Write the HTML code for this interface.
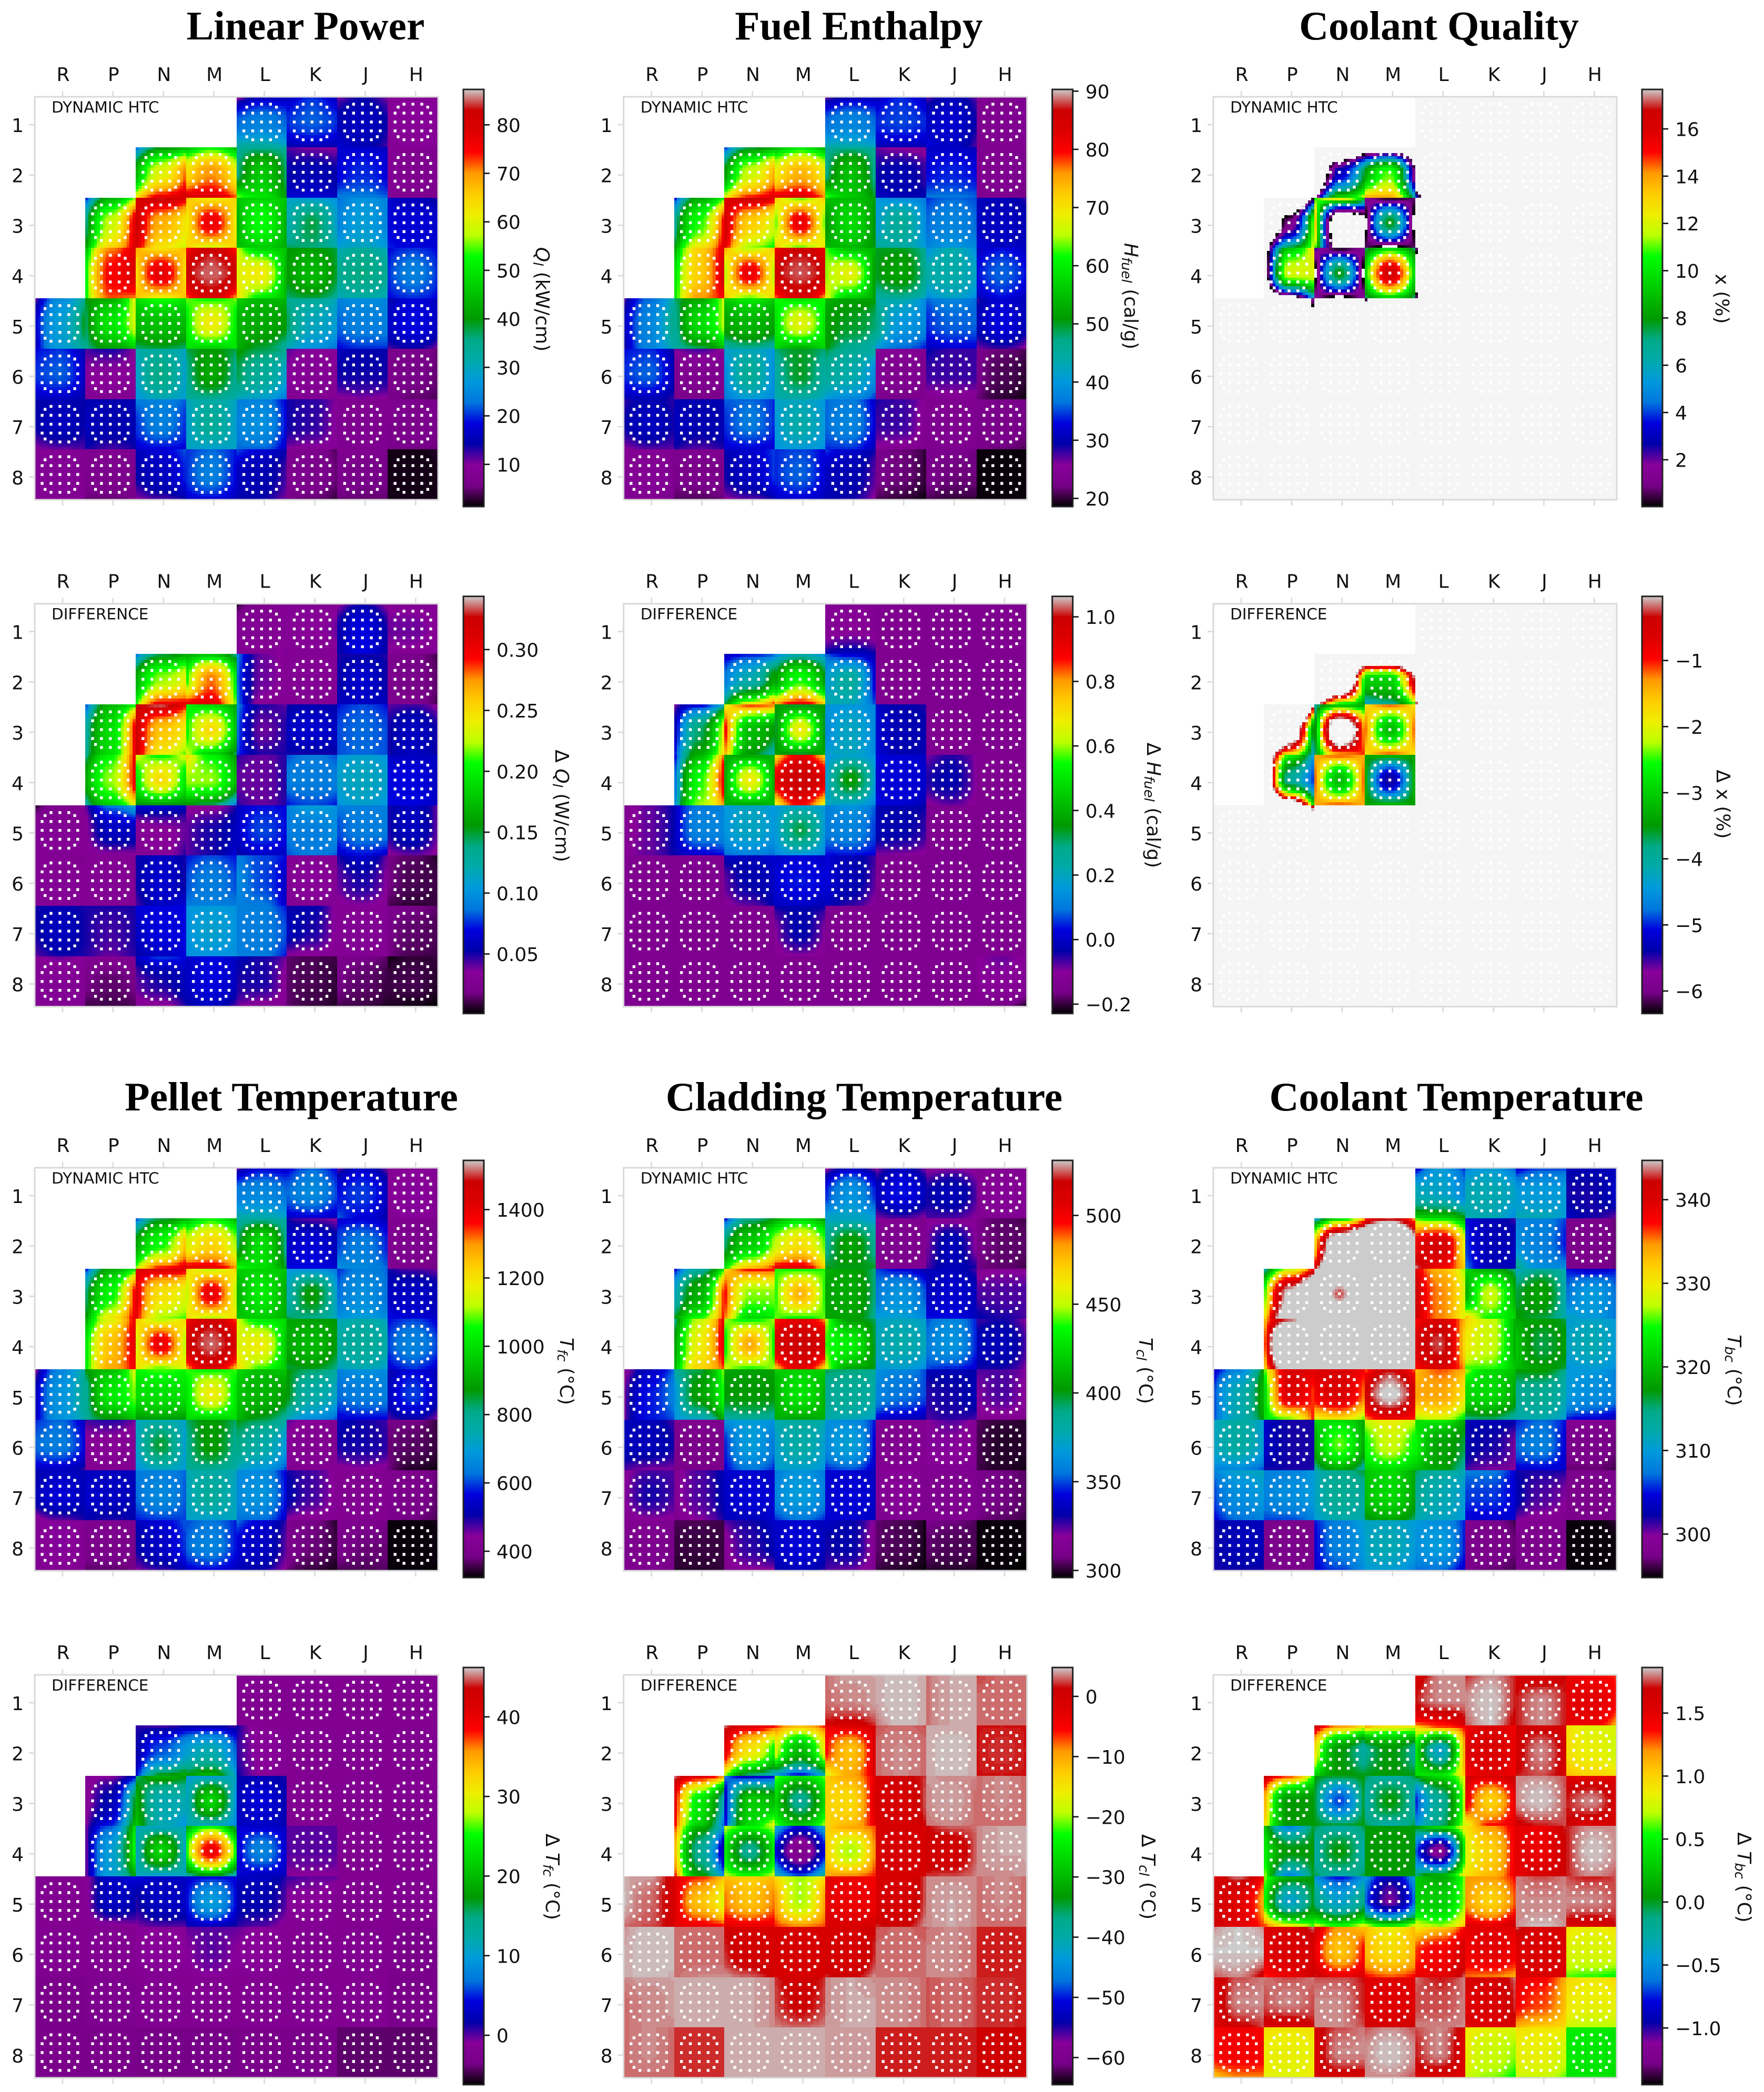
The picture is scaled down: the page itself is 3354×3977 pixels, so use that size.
<!DOCTYPE html>
<html lang="en">
<head>
<meta charset="utf-8">
<title>Core maps: power, enthalpy, quality and temperatures</title>
<style>
html,body{margin:0;padding:0;background:#fff}
svg{display:block}
text{font-family:"DejaVu Sans",sans-serif;fill:#111}
.title{font-family:"Liberation Serif",serif;font-weight:bold;font-size:77.5px;fill:#000}
</style>
</head>
<body>
<svg id="figure" xmlns="http://www.w3.org/2000/svg" width="3354" height="3977" viewBox="0 0 3354 3977">
<rect x="0" y="0" width="3354" height="3977" fill="#ffffff"/>
<text class="title" x="581" y="75" text-anchor="middle">Linear Power</text>
<text class="title" x="1633" y="75" text-anchor="middle">Fuel Enthalpy</text>
<text class="title" x="2736" y="75" text-anchor="middle">Coolant Quality</text>
<text class="title" x="554" y="2111" text-anchor="middle">Pellet Temperature</text>
<text class="title" x="1643" y="2111" text-anchor="middle">Cladding Temperature</text>
<text class="title" x="2769" y="2111" text-anchor="middle">Coolant Temperature</text>
</svg>
<script>
// ---------- categories ----------
const columnLabels=['R','P','N','M','L','K','J','H'];
const rowLabels=['1','2','3','4','5','6','7','8'];
const _=null; // no assembly at this core position

// Each assembly: [top-left,top,top-right,left,centre,right,bottom-left,bottom,bottom-right] or one uniform value.
const linearPowerValues=[
[_,_,_,_,[8,15,15,22,24,22,34,34,30],[15,20,15,20,22,20,14,15,14],[10,14,10,15,16,14,18,15,12],[9,9,9,9,10,9,9,9,9]],
[_,_,[20,38,42,42,60,72,62,78,82],[42,50,42,62,70,60,82,80,72],[34,34,34,34,46,36,58,50,40],[12,10,9,14,15,14,18,18,16],[17,17,16,18,20,18,24,24,22],[9,8,7,9,8,7,9,8,7]],
[_,[16,42,55,34,58,80,40,65,80],[78,85,80,84,68,62,82,62,58],[68,60,66,60,77,60,66,58,66],[46,47,46,42,53,42,45,46,42],[29,27,26,30,38,28,38,36,32],[22,26,24,24,28,24,28,30,27],[17,15,13,18,18,17,20,18,18]],
[_,[42,70,80,50,75,80,50,72,70],[70,62,68,62,78,62,68,60,68],[74,82,72,82,85,82,70,80,68],[60,46,46,60,62,42,66,50,44],[40,40,38,40,44,38,36,38,34],[30,34,30,34,36,34,30,32,30],[18,20,18,20,24,20,18,20,18]],
[[10,25,34,16,28,40,14,28,34],[40,42,62,36,50,60,34,40,46],[48,54,50,44,45,44,36,38,36],[56,52,56,50,62,50,50,46,50],[48,44,44,44,42,40,44,38,32],[34,34,30,38,30,28,30,26,22],[24,26,24,22,24,24,18,20,20],[14,18,16,16,19,16,12,14,10]],
[[18,20,14,20,22,16,16,16,14],[12,14,10,10,10,9,8,8,8],[32,32,30,28,36,28,26,30,28],[38,40,38,34,42,34,34,34,32],[42,38,36,38,34,28,30,28,22],[12,10,9,10,9,9,8,8,9],[16,15,14,14,14,14,9,10,9],[7,7,5,7,6,5,7,5,4]],
[[14,15,14,14,16,14,9,11,12],[15,15,15,16,15,15,14,12,14],[24,24,22,20,24,20,17,18,18],[30,32,30,28,34,28,30,28,30],[24,24,17,24,26,18,22,22,16],[14,13,10,14,13,9,10,9,9],8,[8,7,6,7,7,6,7,6,5]],
[[9,9,8,9,9,8,8,8,8],[8,8,8,7,7,7,5,5,6],[16,18,22,14,16,20,9,12,14],[20,22,19,20,24,18,17,18,15],[22,18,14,16,15,12,15,14,10],[8,7,4,8,7,5,6,5,3],[8,8,7,7,6,6,5,5,5],[2,2,3,2,2,2,2,2,2]]
];
const fuelEnthalpyValues=[
[_,_,_,_,[26,30,30,36,38,36,44,44,42],[30,34,30,34,35,34,30,30,30],[27,30,27,31,32,29,33,31,27],24],
[_,_,[32,48,52,50,66,75,68,80,84],[52,58,52,68,74,68,84,84,76],[46,46,46,46,55,46,65,56,50],[27,25,24,29,30,28,32,30,30],[31,31,30,33,34,33,37,37,36],[24,24,23,24,24,23,24,24,22]],
[_,[30,52,60,44,62,82,50,70,84],[82,88,84,86,72,66,84,64,60],[74,62,74,62,82,62,74,62,72],[56,54,52,50,58,50,54,54,50],[40,38,37,40,46,38,46,44,40],[34,36,35,36,38,36,38,40,38],[30,30,28,31,31,30,33,31,31]],
[_,[50,72,84,58,72,86,58,76,80],[76,64,74,64,82,64,74,62,74],[80,86,80,86,88,86,76,84,74],[64,54,54,64,68,50,70,56,52],[50,50,46,50,52,46,44,46,42],[38,44,38,44,44,42,38,42,38],[30,33,30,33,36,33,30,33,30]],
[[26,36,44,30,38,48,28,38,44],[48,52,68,44,58,66,44,48,54],[56,60,56,52,54,52,44,46,44],[62,58,62,58,68,58,58,52,58],[54,52,52,52,50,48,52,46,42],[44,44,38,48,40,38,40,36,33],[36,38,36,34,36,36,30,32,32],[28,32,30,30,33,30,26,28,25]],
[[33,34,28,34,36,30,30,30,28],[26,28,25,24,24,24,23,23,23],[42,42,40,38,46,38,36,40,38],[48,50,48,44,50,44,44,44,42],[50,46,46,46,44,38,40,38,34],[25,25,24,25,24,24,23,23,24],[30,28,28,28,28,28,24,24,24],[23,22,21,23,21,20,22,20,19]],
[[28,30,28,29,31,29,25,27,27],[30,30,30,31,30,30,29,27,29],[36,36,34,34,37,34,32,32,32],[42,42,40,40,44,40,40,40,40],[36,37,31,36,38,32,34,34,30],[29,28,25,28,28,24,25,24,24],24,[24,23,22,23,23,22,23,22,21]],
[[25,25,24,25,25,24,24,24,23],[24,24,24,23,23,23,21,21,22],[30,32,35,29,31,35,25,27,29],[34,35,32,34,36,32,31,32,30],[35,32,29,31,30,27,30,29,25],[23,22,20,23,22,20,21,20,19],[24,23,22,23,22,22,21,20,20],19]
];
// Negative samples fall outside the scale and show the pale background.
const coolantQualityValues=[
[_,_,_,_,-9,-9,-9,-9],
[_,_,[-9,-9,-6,-9,3,8,-1,10,12],[-6,-5,-8,8,11,0,14,14,6],[-9,-9,-9,-9,-9,-9,6,-9,-9],-9,-9,-9],
[_,[-9,-9,0,-9,1,12,-3,8,12],[10,14,10,15,-3,-1,12,-1,0],[2,-.5,1,-1,8,-1,1,-1,1],-9,-9,-9,-9],
[_,[-4,9,13,-4,12,12,-8,-2,6],[3,-.5,2,-1,8,-1,2,-1,2],[7,9,7,9,16.5,9,7,9,7],[2,-9,-9,-1,-9,-9,2,-9,-9],-9,-9,-9],
[-9,[-9,-9,3,-9,-9,-1,-9,-9,-9],-9,[2,-2,1,-9,-9,-9,-9,-9,-9],-9,-9,-9,-9],
[-9,-9,-9,-9,-9,-9,-9,-9],
[-9,-9,-9,-9,-9,-9,-9,-9],
[-9,-9,-9,-9,-9,-9,-9,-9]
];
const linearPowerDiffValues=[
[_,_,_,_,[.005,.025,.03,.03,.03,.03,.03,.03,.04],[.03,.03,.03,.03,.035,.04,.03,.03,.03],[.03,.05,.03,.05,.07,.05,.05,.07,.05],[.03,.03,.03,.04,.04,.03,.03,.03,.03]],
[_,_,[.08,.14,.16,.16,.22,.24,.2,.31,.31],[.16,.17,.13,.2,.28,.19,.32,.31,.21],[.1,.04,.03,.09,.04,.03,.1,.03,.03],.03,[.05,.05,.05,.05,.065,.05,.06,.06,.06],[.025,.02,.01,.025,.02,.015,.025,.025,.01]],
[_,[.07,.17,.2,.12,.19,.31,.13,.19,.31],[.32,.34,.3,.33,.26,.24,.33,.24,.21],[.2,.18,.16,.2,.25,.17,.24,.18,.14],[.1,.05,.04,.09,.04,.05,.08,.05,.05],[.05,.055,.05,.06,.065,.06,.05,.05,.05],[.07,.08,.07,.08,.085,.08,.08,.085,.08],[.04,.045,.03,.05,.06,.05,.05,.06,.05]],
[_,[.13,.2,.31,.16,.22,.31,.12,.18,.24],[.24,.2,.24,.19,.25,.19,.15,.15,.15],[.26,.2,.15,.22,.22,.17,.15,.14,.08],[.05,.04,.05,.04,.04,.05,.05,.04,.05],[.08,.09,.08,.09,.09,.09,.07,.08,.07],[.1,.11,.1,.11,.115,.11,.1,.11,.1],[.06,.06,.06,.07,.07,.06,.07,.07,.06]],
[[.005,.025,.03,.03,.03,.03,.03,.03,.03],[.04,.09,.12,.03,.06,.06,.03,.03,.03],[.07,.07,.06,.03,.035,.04,.03,.03,.05],[.03,.03,.05,.04,.05,.06,.04,.05,.07],[.06,.07,.07,.06,.08,.07,.05,.06,.06],[.09,.11,.1,.09,.09,.1,.08,.09,.08],[.09,.09,.09,.08,.09,.09,.06,.07,.06],[.05,.06,.04,.05,.06,.04,.03,.04,.03]],
[[.03,.03,.025,.03,.03,.03,.03,.035,.03],.03,[.05,.06,.05,.05,.065,.05,.04,.06,.07],[.07,.08,.07,.08,.09,.08,.09,.09,.09],[.09,.08,.07,.1,.08,.06,.09,.09,.06],[.03,.03,.03,.03,.035,.03,.03,.03,.03],[.05,.065,.04,.04,.05,.035,.03,.035,.03],[.02,.015,.005,.02,.012,.01,.012,.008,.01]],
[[.05,.055,.05,.05,.06,.05,.04,.05,.05],[.05,.05,.05,.05,.045,.05,.05,.04,.05],[.07,.07,.07,.06,.07,.07,.05,.06,.07],[.1,.105,.1,.1,.11,.1,.1,.1,.1],[.09,.09,.07,.09,.09,.08,.09,.09,.07],[.05,.055,.03,.06,.05,.03,.03,.03,.03],.03,[.025,.02,.015,.02,.015,.012,.02,.012,.01]],
[[.03,.04,.03,.03,.03,.03,.03,.03,.03],[.03,.03,.03,.02,.015,.02,.01,.01,.012],[.06,.08,.07,.04,.05,.06,.03,.03,.05],[.06,.07,.06,.06,.07,.06,.05,.06,.04],[.06,.05,.04,.05,.05,.03,.04,.03,.03],[.015,.012,.01,.015,.012,.008,.015,.01,.006],[.025,.02,.015,.02,.015,.01,.012,.01,.006],[.003,.008,.01,.01,.012,.006,.006,.004,.001]]
];
const fuelEnthalpyDiffValues=[
[_,_,_,_,[-.12,-.12,-.12,-.12,-.1,-.12,-.02,0,-.03],-.13,-.13,-.13],
[_,_,[-.03,.03,.06,.1,.22,.4,.3,.7,.9],[.1,.2,.12,.35,.55,.35,.8,.95,.75],[.08,0,-.03,.15,.25,0,.25,.2,.06],-.13,-.13,-.13],
[_,[-.1,0,.2,-.05,.3,.7,.02,.4,.72],[.6,.88,.85,.92,.42,.35,.8,.35,.2],[.36,.3,.36,.3,.68,.3,.38,.3,.4],[.15,.15,.12,.12,.2,.12,.18,.2,.12],[0,-.03,-.05,.02,-.02,-.03,.03,-.03,-.02],-.13,-.13],
[_,[-.02,.4,.85,.05,.55,.95,.12,.6,.8],[.38,.36,.4,.36,.68,.36,.4,.36,.42],[.68,.9,.7,.9,1,.92,.62,.88,.6],[.15,.17,.15,.16,.36,.16,.2,.17,.12],[.03,.02,0,.02,.02,.01,.03,.02,-.03],[-.1,-.05,-.1,-.05,-.03,-.1,-.12,-.08,-.12],-.13],
[[-.13,-.08,-.03,-.13,-.08,-.03,-.12,-.08,-.03],[-.02,.1,.12,-.02,.12,.12,-.03,0,.03],[.15,.2,.15,.15,.2,.15,.08,.1,.08],[.16,.18,.16,.15,.32,.16,.12,.14,.12],[.1,.15,.08,.1,.12,.06,.03,.03,.02],[-.02,-.03,-.03,-.02,-.03,-.06,-.1,-.1,-.12],-.13,-.13],
[-.13,-.13,[0,-.01,.02,-.08,-.03,0,-.12,-.08,-.02],[0,.02,0,.02,.04,.02,0,0,-.03],[.03,-.02,-.06,.03,-.02,-.08,0,-.06,-.12],-.13,-.13,-.13],
[-.13,-.13,-.13,[-.03,-.03,-.03,-.1,-.03,-.1,-.13,-.1,-.13],-.13,-.13,-.13,-.13],
[-.13,-.13,-.13,-.13,-.13,-.13,-.13,[-.11,-.08,-.12,-.1,-.1,-.12,-.14,-.16,-.22]]
];
// Samples above the scale maximum show the pale background.
const coolantQualityDiffValues=[
[_,_,_,_,9,9,9,9],
[_,_,[9,9,6,9,2,-3,1,-3,-3.5],[6,5,8,-3,-3,0,-4.5,-4,-2.5],[3,3,3,3,3,3,-1,3,3],9,9,9],
[_,[9,9,0,9,1,-4,3,-2,-4.5],[-4,-3.5,-3.5,-4,1,-1.5,-4,-1.5,-1],[-2,-1,-2,-1,-3.2,-1,-2,-1,-2],9,9,9,9],
[_,[4,-2.5,-4.5,4,-4,-5,8,2,-3],[-1.5,-1,-1.5,-1,-3.2,-1,-1.5,-1,-1.5],[-3.5,-3,-3.5,-3,-5.5,-3,-3.5,-3,-3.5],[0,3,3,1,3,3,-.5,3,3],9,9,9],
[9,[3,3,-1,3,3,1,3,3,3],9,[-.5,1,0,3,3,3,3,3,3],9,9,9,9],
[9,9,9,9,9,9,9,9],
[9,9,9,9,9,9,9,9],
[9,9,9,9,9,9,9,9]
];
const pelletTempValues=[
[_,_,_,_,[450,550,540,640,660,620,760,760,720],[540,620,550,620,660,600,530,550,520],[450,540,450,570,600,530,620,560,500],[420,440,420,430,450,420,420,450,420]],
[_,_,[560,830,900,880,1050,1260,1100,1380,1440],[900,1020,900,1130,1220,1100,1440,1420,1300],[760,760,760,800,1000,780,1100,1000,850],[500,460,430,540,560,520,570,570,550],[550,550,520,600,640,580,680,660,620],[420,410,390,420,410,390,420,400,380]],
[_,[530,900,1000,800,1040,1400,860,1200,1420],[1400,1460,1430,1430,1200,1150,1430,1100,1060],[1240,1100,1240,1100,1400,1100,1240,1090,1230],[980,970,950,900,1020,900,950,960,900],[680,660,620,720,880,700,850,800,720],[580,640,620,620,670,620,680,700,660],[500,470,450,530,540,520,580,560,540]],
[_,[890,1150,1420,1000,1250,1430,1000,1280,1380],[1260,1100,1240,1120,1400,1100,1230,1060,1200],[1360,1460,1320,1450,1510,1440,1260,1430,1240],[1160,1000,1000,1150,1180,930,1240,1060,940],[900,880,870,900,930,860,840,860,800],[730,760,720,760,780,760,720,740,700],[560,600,540,600,650,600,540,590,530]],
[[420,650,780,520,680,800,520,680,760],[880,930,1180,760,1020,1100,780,860,950],[1040,1080,1040,1000,1000,1000,860,880,860],[1080,1040,1080,1000,1180,1000,1000,960,1000],[1000,940,960,960,920,880,940,850,760],[880,830,780,880,760,720,720,660,600],[640,680,660,620,640,640,540,560,560],[500,560,520,520,600,520,470,500,440]],
[[580,620,520,620,640,560,530,530,480],[480,500,460,440,440,420,420,420,420],[730,740,720,700,850,690,660,720,700],[830,880,830,790,880,790,790,790,760],[880,840,770,820,760,680,720,680,580],[470,440,420,440,420,420,420,420,420],[540,500,480,500,500,490,420,440,420],[390,390,350,380,370,350,390,340,330]],
[[500,530,520,520,560,520,410,460,500],[530,530,530,550,540,520,510,490,510],[640,640,620,620,660,610,570,590,600],[740,760,730,720,780,720,720,700,740],[660,660,540,660,680,560,620,620,530],[500,480,420,520,480,420,440,420,420],420,[420,400,380,410,400,370,400,380,360]],
[[420,450,420,430,450,420,420,420,410],[410,420,410,400,400,390,370,370,390],[530,560,620,500,540,600,440,480,520],[600,630,580,620,650,570,540,560,530],[640,560,480,560,540,460,530,500,420],[410,390,340,410,380,350,380,350,330],[420,410,390,400,380,380,360,360,370],[330,330,335,330,330,330,330,330,325]]
];
const claddingTempValues=[
[_,_,_,_,[315,335,320,345,365,345,375,375,370],[318,335,320,335,345,335,320,325,318],[315,320,315,330,335,325,325,325,318],[315,315,315,315,318,315,315,315,315]],
[_,_,[335,385,400,390,420,450,430,480,500],[400,420,400,450,465,440,510,510,470],[370,370,365,385,405,385,400,400,400],[318,315,312,315,312,315,315,315,315],[318,315,315,320,335,318,325,335,330],[310,305,302,310,306,305,308,306,302]],
[_,[335,380,430,370,410,500,400,440,500],[460,500,500,500,445,445,490,420,430],[440,432,440,435,478,435,445,430,445],[410,405,390,405,408,390,405,405,385],[350,340,330,355,365,350,370,370,360],[335,335,325,335,340,335,345,345,335],[312,318,318,325,325,325,335,330,325]],
[_,[380,450,510,400,460,510,410,470,490],[450,430,450,430,480,430,455,435,450],[490,505,480,510,518,510,470,505,465],[455,400,395,440,432,395,460,405,400],[370,375,370,375,378,375,365,370,360],[350,360,345,355,365,345,350,345,340],[325,330,318,335,335,325,330,330,320]],
[[312,335,355,320,345,360,320,345,350],[385,395,450,360,405,440,365,370,410],[405,405,405,402,402,402,380,385,380],[420,420,420,410,428,410,410,405,410],[395,392,385,385,385,380,380,375,370],[365,360,350,360,355,350,340,335,330],[335,335,330,328,330,335,325,328,325],[325,325,320,320,325,318,315,315,312]],
[[335,335,325,335,335,330,325,320,320],[312,315,312,312,310,312,310,310,310],[365,368,365,345,368,355,340,355,345],[380,382,380,370,380,370,370,370,365],[365,360,345,360,370,340,345,350,335],315,[318,325,315,320,320,315,315,315,315],[305,302,300,304,300,300,303,300,298]],
[[315,325,325,318,330,325,312,318,318],[312,325,335,315,325,335,310,320,330],[338,340,335,338,342,340,335,335,340],[355,365,355,360,368,358,345,355,345],[340,340,335,340,342,338,340,340,335],[315,320,312,315,318,312,312,312,312],314,[310,308,304,310,308,304,308,305,302]],
[[315,315,312,312,312,310,312,312,308],[304,304,302,302,302,302,300,300,302],[325,330,340,316,328,335,312,318,318],[338,340,335,338,342,335,330,335,328],[340,332,316,330,332,312,325,322,312],[306,304,298,306,304,298,302,300,297],[310,308,303,306,304,304,300,300,300],[297,297,298,297,297,297,298,297,296]]
];
const coolantTempValues=[
[_,_,_,_,[302,310,305,312,311,308,322,322,318],[308,310,306,312,312,311,312,312,308],[303,306,306,310,310,310,312,312,310],[303,303,303,302,302,304,304,302,300]],
[_,_,[308,320,332,330,350,356,340,356,358],[336,341,333,352,356,345,358,358,352],[325,322,318,338,341,328,345,338,332],[305,303,301,306,303,303,308,303,303],[308,308,306,309,308,305,316,309,309],[298,298,297,298,298,297,298,298,297]],
[_,[310,326,338,324,345,356,330,350,358],[356,356,356,356,343,356,356,356,356],350,[340,333,326,342,335,328,342,335,328],[322,318,314,318,328,318,335,324,322],[310,314,312,316,318,312,318,316,312],[305,303,305,307,310,307,312,310,307]],
[_,[332,342,352,334,355,358,330,348,356],350,350,[337,340,333,340,343,330,337,340,334],[332,328,318,330,328,318,325,325,320],[318,318,316,321,316,318,320,318,316],[310,311,310,311,312,310,309,310,309]],
[[303,308,318,306,312,320,306,312,318],[325,340,340,320,340,336,322,325,338],[340,340,338,338,340,335,328,330,325],[335,342,335,341,345,341,334,338,336],[332,336,333,334,334,330,326,328,322],[328,322,320,322,322,318,314,315,312],[318,318,314,314,314,312,312,312,310],[310,310,308,310,309,308,305,304,302]],
[[311,313,310,311,313,310,308,308,306],[304,302,302,304,302,302,302,302,302],[322,322,318,318,326,318,313,318,312],[328,330,328,324,328,324,321,322,320],[322,324,318,325,318,316,320,318,312],[303,303,303,303,302,300,301,300,300],[305,307,305,307,308,304,304,304,304],[299,299,298,298,298,297,297,297,296]],
[[308,311,312,306,309,310,304,307,308],[308,308,310,308,309,310,306,306,308],[311,314,317,311,314,313,310,312,312],[320,322,318,320,322,318,316,318,315],[316,313,312,314,312,310,312,311,310],[308,308,304,306,306,304,304,304,304],[302,302,302,303,301,300,300,299,298],[298,298,298,298,298,298,298,298,297]],
[[302,303,303,302,303,303,302,302,302],298,[305,308,311,304,308,310,304,306,309],[311,311,310,311,312,310,310,310,308],[310,309,305,309,310,305,307,307,303],[299,298,296,298,298,297,298,297,296],[300,299,298,298,298,298,298,298,298],[295,295,296,295,295,295,295,295,295]]
];
const pelletTempDiffValues=[
[_,_,_,_,-2,-2,-2,-2],
[_,_,[1,0,1,1,6,10,2,18,20],[1,1,0,10,12,6,18,20,10],[2,-2,-2,1,-1,-2,2,-1,-2],-2,-2,-2],
[_,[-2,-1,2,-2,2,18,-1,5,22],[14,20,18,20,12,12,22,12,8],[10,9,12,10,22,8,12,10,8],[2,2,1,2,4,2,3,3,2],-2,-2,-2],
[_,[-1,6,24,-1,10,26,-1,10,18],[12,10,12,10,22,10,12,9,12],[18,24,14,24,40,24,12,16,10],[4,3,3,3,8,3,4,2,3],[0,0,0,0,0,0,-1,-1,-1],-2,-2],
[-2,[-2,3,5,-2,3,2,-2,-2,-1],[5,3,3,1,3,3,-1,0,0],[3,4,4,4,10,4,2,2,1],[3,3,1,2,2,0,1,0,-2],[1,0,0,-1,-1,-2,-2,-2,-2],-2,-2],
[-2,-2,[-1,-1,-1,-1,-1,-1,-2,-2,-2],[0,0,0,-1,0,-1,-2,-1,-2],[0,-1,-2,-1,-1,-2,-2,-2,-2],-2,-2,[-2,-3,-3,-2,-3,-3,-3,-3,-3]],
[-3,-2.5,-2,-2,-2,-2,-2,-3],
[-3,-3,-3.5,-3.5,-3,-3,-4,-4]
];
const claddingTempDiffValues=[
[_,_,_,_,[3,4,4,3,3.5,4,1,0,2],[4,4.5,4,4,4.5,4,3,4.5,4],[3,4,4,3,4,4,3,4,4],[2,3,3,3,3,3,3,3,3]],
[_,_,[4,-1,-3,-2,-15,-25,-20,-38,-44],[-5,-10,-5,-16,-30,-15,-45,-52,-42],[-4,-1,-1,-5,-12,-1,-20,-10,-1],[2.5,3,2.5,3,3.5,3,3,3.5,3],[4,4,4,4,4.5,4,4,4.5,4],[1.5,1.5,1.5,1.5,2,1.5,1.5,1.5,1.5]],
[_,[4,0,-8,-1,-25,-42,-3,-28,-50],[-45,-55,-52,-55,-28,-30,-52,-26,-14],[-20,-25,-20,-26,-38,-26,-20,-28,-18],[-13,-10,-3,-13,-14,-1,-14,-11,-3],[-1,1,2,-.5,-1,3,-1,-1,1],[4,3.5,3.5,3.5,4,3,3,3.5,3],[3,3.5,3,3,3.5,3,3,3,3]],
[_,[-4,-30,-44,-9,-38,-56,-3,-32,-45],[-18,-22,-18,-24,-38,-24,-18,-22,-18],[-40,-50,-40,-50,-60,-50,-38,-48,-36],[-14,-9,-7,-12,-20,-8,-10,-8,-6],-1,[1,3,3,0,0,3,2,2.5,3.5],[3.5,4,4,3.5,4,4,3.5,3.5,4]],
[[4,4,-1,4.5,3,-1,3,2.5,0],[-2,-6,-12,-1,-12,-18,-3,-3,-5],[-12,-13,-12,-8,-12,-8,-2,-3,-3],[-14,-20,-14,-9,-20,-9,-6,-8,-7],[-2,-4,-5,-3,-4,-4,-1,-1,-1],[-1,-1,3,-1,-1,3,2,1,4],[3.5,3.5,3.5,3.5,4,3.5,3.5,4,3.5],[3,3.5,3,3,3.5,3,3,3,3]],
[[3.5,4.5,4.5,4,4.5,4.5,4,4.5,4],[3,3,3,3,3,3,3,3.5,3.5],[0,-1,-1,2,0,-1,4,3,0],[-.5,-1,-.5,-1,-1,-1,-1,-1,-.5],[-1,-1,1,-1,-1,2,2,1,4],[2.5,3,2.5,3,3,3,3,3,3],[3,3.5,3,3.5,3.5,3,3.5,3.5,3],1.8],
[[3.5,4,4,3,3.5,4,3,3.5,3.5],4,[4,4,3.5,4,4,3.5,4,4,3.5],[2,0,2,2.5,1,2.5,3.5,3,3.5],[3.5,4,3.5,3.5,4,4,4,4,4],[3.5,3.5,3,3.5,3.5,3,3.5,3.5,3],[2.5,3,2.5,2.5,3,2.5,2.5,3,2.5],[1.8,2,1.5,2,2,1.5,2,2,1.5]],
[[3,3.5,3,3,3.5,3,3,3,3],2,4,4,3.8,1.8,1.8,1]
];
const coolantTempDiffValues=[
[_,_,_,_,[1.5,1.8,1.8,1.7,1.8,1.8,1.2,1.3,1.6],[1.7,1.8,1.7,1.8,1.85,1.7,1.75,1.85,1.6],[1.6,1.55,1.7,1.7,1.8,1.7,1.7,1.8,1.7],[1.5,1.4,1.3,1.5,1.5,1.4,1.5,1.45,1.1]],
[_,_,[1.8,1.3,1,1,.04,-.3,.3,.04,.04],[1.3,1,1,-.2,.04,-.2,.04,.04,.04],[1,1.5,1.4,.5,-.4,1.3,.4,.5,1.1],[1.4,1.55,1.4,1.5,1.55,1.45,1.4,1.5,1.4],[1.7,1.6,1.6,1.6,1.8,1.6,1.7,1.75,1.6],[.95,.8,.8,.95,.85,.75,1.1,1,.95]],
[_,[1.8,1.4,.5,1.2,.04,.04,1,.04,.04],[.04,.04,.04,.04,-.7,.04,.04,.04,.04],[0,-.3,0,-.3,.04,-.3,0,-.3,0],[.1,.4,.9,-.8,-.2,.8,-.5,-.1,.9],[1.6,1.6,1.75,1.5,1,1.5,.6,1.4,1.5],[1.8,1.8,1.75,1.8,1.85,1.75,1.6,1.7,1.75],[1.5,1.45,1.5,1.7,1.8,1.6,1.7,1.5,1.6]],
[_,[.3,-.6,.04,.5,.04,.04,.8,-.6,.04],[0,-.3,0,-.3,.04,-.3,0,-.3,0],.04,[.1,.5,1,-.6,-1.2,.6,-.1,.3,1],[.9,1.2,1.5,.8,1,1.5,.9,1.1,1.5],[1.5,1.45,1.75,1.5,1.45,1.7,1.45,1.6,1.7],[1.7,1.8,1.8,1.7,1.85,1.8,1.7,1.8,1.75]],
[[1.5,1.8,1.4,1.7,1.5,1.1,1.7,1.5,1.3],[.7,.2,.04,.6,-.4,.04,1.4,1,.6],[-.5,-.8,-.5,-.1,-.4,-.1,.9,.6,.9],[-.4,-.9,-.4,-.6,-1.1,-.6,.9,.6,.9],[.3,.1,.7,.3,.3,.7,.9,.7,1.1],[1.2,1.2,1.4,1.2,1,1.3,1.6,1.5,1.75],[1.8,1.75,1.8,1.8,1.8,1.8,1.8,1.85,1.8],[1.75,1.7,1.75,1.8,1.8,1.75,1.6,1.55,1.7]],
[[1.8,1.85,1.8,1.85,1.85,1.85,1.75,1.8,1.6],[1.5,1.6,1.8,1.5,1.55,1.6,1.3,1.45,1.7],[1.7,1.2,1,1.5,1.05,1.4,1.75,1.5,1.6],[1.1,.85,1.1,1.1,.95,1.1,1.4,1.3,1.4],[.8,1,1.4,1.3,1.4,1.6,1.5,1.5,1.8],[1.5,1.5,1.5,1.4,1.5,1.4,1.25,1.2,1.1],[1.8,1.55,1.6,1.5,1.55,1.55,1.55,1.55,1.55],[.95,.85,.95,.8,.8,.8,.6,.55,.45]],
[[1.55,1.75,1.8,1.5,1.8,1.8,1.5,1.65,1.75],[1.8,1.75,1.8,1.75,1.8,1.75,1.6,1.55,1.7],[1.75,1.75,1.7,1.8,1.8,1.7,1.8,1.8,1.75],[1.5,1.5,1.5,1.5,1.5,1.5,1.7,1.6,1.7],[1.8,1.7,1.8,1.75,1.75,1.8,1.8,1.8,1.8],[1.6,1.6,1.8,1.5,1.55,1.75,1.55,1.5,1.6],[1.5,1.4,1.1,1.4,1.3,1.05,1.1,1,.95],[1,.9,1,.9,.85,.85,.75,.7,.7]],
[[1.4,1.45,1.4,1.4,1.4,1.4,1,1.2,1.2],[.95,.9,.95,.85,.85,.85,.85,.8,.9],[1.6,1.75,1.8,1.55,1.8,1.8,1.6,1.6,1.6],[1.75,1.8,1.75,1.8,1.85,1.8,1.8,1.8,1.75],[1.75,1.8,1.6,1.7,1.8,1.5,1.6,1.55,1.55],[.9,.85,.8,.85,.75,.65,.75,.65,.45],[.95,.9,.9,.85,.85,.75,.75,.75,.6],[.45,.45,.4,.45,.42,.4,.4,.42,.35]]
];

// ---------- scales and tick labels (panels in reading order) ----------
const panelValues=[linearPowerValues,fuelEnthalpyValues,coolantQualityValues,linearPowerDiffValues,fuelEnthalpyDiffValues,coolantQualityDiffValues,pelletTempValues,claddingTempValues,coolantTempValues,pelletTempDiffValues,claddingTempDiffValues,coolantTempDiffValues];
const panelSlugs=['linear-power','fuel-enthalpy','coolant-quality','linear-power-difference','fuel-enthalpy-difference','coolant-quality-difference','pellet-temperature','cladding-temperature','coolant-temperature','pellet-temperature-difference','cladding-temperature-difference','coolant-temperature-difference'];
const scaleMin=[1.3,18.6,.02,.0011,-.229,-6.34,323,296,294.8,-6.2,-64.5,-1.45];
const scaleMax=[87.3,90.3,17.67,.3437,1.0635,-.03,1544,531,344.7,46.2,4.8,1.862];
const linearPowerTicks=[10,20,30,40,50,60,70,80];
const fuelEnthalpyTicks=[20,30,40,50,60,70,80,90];
const coolantQualityTicks=[2,4,6,8,10,12,14,16];
const linearPowerDiffTicks=[.05,.1,.15,.2,.25,.3];
const fuelEnthalpyDiffTicks=[-.2,0,.2,.4,.6,.8,1];
const coolantQualityDiffTicks=[-6,-5,-4,-3,-2,-1];
const pelletTempTicks=[400,600,800,1000,1200,1400];
const claddingTempTicks=[300,350,400,450,500];
const coolantTempTicks=[300,310,320,330,340];
const pelletTempDiffTicks=[0,10,20,30,40];
const claddingTempDiffTicks=[-60,-50,-40,-30,-20,-10,0];
const coolantTempDiffTicks=[-1,-.5,0,.5,1,1.5];
const panelTicks=[linearPowerTicks,fuelEnthalpyTicks,coolantQualityTicks,linearPowerDiffTicks,fuelEnthalpyDiffTicks,coolantQualityDiffTicks,pelletTempTicks,claddingTempTicks,coolantTempTicks,pelletTempDiffTicks,claddingTempDiffTicks,coolantTempDiffTicks];
const tickDecimals=[0,0,0,2,1,0,0,0,0,0,0,1];
const panelNotes=['DYNAMIC HTC','DYNAMIC HTC','DYNAMIC HTC','DIFFERENCE','DIFFERENCE','DIFFERENCE','DYNAMIC HTC','DYNAMIC HTC','DYNAMIC HTC','DIFFERENCE','DIFFERENCE','DIFFERENCE'];
const axisSymbols=['Q','H','x','Q','H','x','T','T','T','T','T','T'];
const axisSubscripts=['l','fuel','','l','fuel','','fc','cl','bc','fc','cl','bc'];
const axisUnits=['(kW/cm)','(cal/g)','(%)','(W/cm)','(cal/g)','(%)','(\u00B0C)','(\u00B0C)','(\u00B0C)','(\u00B0C)','(\u00B0C)','(\u00B0C)'];
const axisDelta=[false,false,false,true,true,true,false,false,false,true,true,true];

// ---------- layout (not data) ----------
const LAYOUT={
  columnLeft:[66,1185.7,2307],
  rowTop:[184,1147.7,2220,3184],
  width:767,height:766,
  labelCenterX:[1031,2150,3274,1068,2193,3276,1077,2178,3297,1050,2183,3316],
  labelCenterY:[569,563,568,1532,1531,1529,2607,2606,2605,3568,3568,3569]
};
const PINS=17,EDGE=136;
const guideTubes=[[2,5],[2,8],[2,11],[3,3],[3,13],[5,2],[5,5],[5,8],[5,11],[5,14],[8,2],[8,5],[8,8],[8,11],[8,14],[11,2],[11,5],[11,8],[11,11],[11,14],[13,3],[13,13],[14,5],[14,8],[14,11]];

// nipy_spectral colormap anchors
const CMAP=[[0,0,0],[.4667,0,.5333],[.5333,0,.6],[0,0,.6667],[0,0,.8667],[0,.4667,.8667],[0,.6,.8667],[0,.6667,.6667],[0,.6667,.5333],[0,.6,0],[0,.7333,0],[0,.8667,0],[0,1,0],[.7333,1,0],[.9333,.9333,0],[1,.8,0],[1,.6,0],[1,0,0],[.8667,0,0],[.8,0,0],[.8,.8,.8]];
function cmapColor(f){
  const p=Math.min(Math.max(f,0),1)*(CMAP.length-1),i=Math.min(Math.floor(p),CMAP.length-2),t=p-i;
  const c=[0,1,2].map(k=>Math.round(255*(CMAP[i][k]+(CMAP[i+1][k]-CMAP[i][k])*t)));
  return 'rgb('+c.join(',')+')';
}
const LUT=[];
for(let i=0;i<256;i++)LUT.push(cmapColor(i/255));

const NS='http://www.w3.org/2000/svg';
const svg=document.getElementById('figure');
function mk(tag,attrs,parent,text){
  const el=document.createElementNS(NS,tag);
  for(const k in attrs)el.setAttribute(k,attrs[k]);
  if(text!==undefined)el.textContent=text;
  (parent||svg).appendChild(el);
  return el;
}

// axis functions
function xScale(left,i){return Math.round(left+i*LAYOUT.width/EDGE);}
function yScale(top,j){return Math.round(top+j*LAYOUT.height/EDGE);}
function colorIndex(v,lo,hi){
  return Math.min(255,Math.max(0,Math.floor((v-lo)/(hi-lo)*256)));
}
function cbarY(v,lo,hi,cTop,cH){return cTop+cH*(hi-v)/(hi-lo);}
function ease(u){const t=2*u-1;return 1+Math.sign(t)*Math.pow(Math.abs(t),1.8);}
function shade(a,u,v){
  if(typeof a==='number')return a;
  const x=ease(u),y=ease(v);
  const ix=Math.min(1,Math.floor(x)),iy=Math.min(1,Math.floor(y)),tx=x-ix,ty=y-iy;
  const g=(r,c)=>a[r*3+c];
  return (g(iy,ix)*(1-tx)+g(iy,ix+1)*tx)*(1-ty)+(g(iy+1,ix)*(1-tx)+g(iy+1,ix+1)*tx)*ty;
}

// colorbar gradient
const defs=mk('defs',{});
const grad=mk('linearGradient',{id:'spectral',x1:0,y1:1,x2:0,y2:0},defs);
CMAP.forEach((c,i)=>{
  mk('stop',{offset:(i/(CMAP.length-1)),'stop-color':cmapColor(i/(CMAP.length-1))},grad);
});

function drawPanel(n){
  const slug=panelSlugs[n],values=panelValues[n],lo=scaleMin[n],hi=scaleMax[n];
  const left=LAYOUT.columnLeft[n%3],top=LAYOUT.rowTop[Math.floor(n/3)];
  const W=LAYOUT.width,H=LAYOUT.height;
  const isQuality=n===2||n===5;
  const g=mk('g',{});
  
  

  // pale background behind assemblies for the masked quality panels
  if(isQuality){
    let bg='';
    values.forEach((row,r)=>row.forEach((a,c)=>{
      if(a===null)return;
      const x0=xScale(left,c*PINS),x1=xScale(left,(c+1)*PINS),y0=yScale(top,r*PINS),y1=yScale(top,(r+1)*PINS);
      bg+='M'+x0+' '+y0+'H'+x1+'V'+y1+'H'+x0+'Z';
    }));
    const b=mk('path',{d:bg,fill:'#f5f5f5','shape-rendering':'crispEdges'},g);
    
    
  }

  // heatmap cells grouped by colormap level
  const bins=new Map();
  for(let r=0;r<8;r++)for(let c=0;c<8;c++){
    const a=values[r][c];
    if(a===null)continue;
    for(let j=0;j<PINS;j++){
      const y0=yScale(top,r*PINS+j),y1=yScale(top,r*PINS+j+1);
      let runStart=0,runIdx=-2;
      const flush=(end)=>{
        if(runIdx<0)return;
        const x0=xScale(left,c*PINS+runStart),x1=xScale(left,c*PINS+end);
        bins.set(runIdx,(bins.get(runIdx)||'')+'M'+x0+' '+y0+'H'+x1+'V'+y1+'H'+x0+'Z');
      };
      for(let i=0;i<PINS;i++){
        const v=shade(a,(i+.5)/PINS,(j+.5)/PINS);
        let idx=colorIndex(v,lo,hi);
        if(n===2&&v<lo)idx=-1;
        if(n===5&&v>hi)idx=-1;
        if(idx!==runIdx){flush(i);runStart=i;runIdx=idx;}
      }
      flush(PINS);
    }
  }
  bins.forEach((d,idx)=>{
    const p=mk('path',{d:d,fill:LUT[idx],'shape-rendering':'crispEdges'},g);
    
    
  });

  // guide-tube dots
  let dots='';
  values.forEach((row,r)=>row.forEach((a,c)=>{
    if(a===null)return;
    guideTubes.forEach(t=>{
      const x0=left+(c*PINS+t[1]+.02)*W/EDGE,y0=top+(r*PINS+t[0]+.02)*H/EDGE;
      const s=(.96*W/EDGE).toFixed(2);
      dots+='M'+x0.toFixed(1)+' '+y0.toFixed(1)+'h'+s+'v'+s+'h-'+s+'z';
    });
  }));
  const dp=mk('path',{d:dots,fill:'#ffffff'},g);
  
  

  // frame
  const frame=mk('rect',{x:left,y:top,width:W,height:H,fill:'none',stroke:'#d9d9d9','stroke-width':3},g);
  
  

  // column ticks and labels
  columnLabels.forEach((lab,i)=>{
    const x=left+53+95.9*i;
    const t1=mk('line',{x1:x,x2:x,y1:top-11,y2:top,stroke:'#d9d9d9','stroke-width':2.6},g);
    
    
    const t2=mk('line',{x1:x,x2:x,y1:top+H,y2:top+H+11,stroke:'#d9d9d9','stroke-width':2.6},g);
    
    
    const tx=mk('text',{x:x+1,y:top-30,'text-anchor':'middle','font-size':36},g,lab);
    
    
  });
  // row ticks and labels
  rowLabels.forEach((lab,i)=>{
    const y=top+53+95.7*i;
    const t=mk('line',{x1:left-11,x2:left,y1:y,y2:y,stroke:'#d9d9d9','stroke-width':2.6},g);
    
    
    const tx=mk('text',{x:left-21,y:y+14,'text-anchor':'end','font-size':36},g,lab);
    
    
  });

  // note
  const note=mk('text',{x:left+32,y:top+30,'font-size':29.5},g,panelNotes[n]);
  
  

  // colorbar
  const cx=left+815,cw=39,cTop=top-14,cH=793;
  const bar=mk('rect',{x:cx,y:cTop,width:cw,height:cH,fill:'url(#spectral)',stroke:'#222','stroke-width':3},g);
  
  
  panelTicks[n].forEach(v=>{
    const y=cbarY(v,lo,hi,cTop,cH);
    const t=mk('line',{x1:cx+cw,x2:cx+cw+11,y1:y,y2:y,stroke:'#111','stroke-width':2.6},g);
    
    
    const s=v.toFixed(tickDecimals[n]).replace('-','\u2212');
    const tx=mk('text',{x:cx+cw+24,y:y+13.5,'font-size':36},g,s);
    
    
  });

  // colorbar title, rotated to read downward
  const lx=LAYOUT.labelCenterX[n],ly=LAYOUT.labelCenterY[n];
  const lab=mk('text',{x:lx,y:ly,'text-anchor':'middle','dominant-baseline':'central','font-size':36,transform:'rotate(90 '+lx+' '+ly+')'},g);
  
  
  if(axisDelta[n])mk('tspan',{},lab,'\u0394 ');
  const sym=axisSubscripts[n]?{'font-style':'italic'}:{};
  mk('tspan',sym,lab,axisSymbols[n]);
  if(axisSubscripts[n]){
    mk('tspan',{'font-style':'italic','font-size':26,dy:9},lab,axisSubscripts[n]);
    mk('tspan',{dy:-9},lab,' '+axisUnits[n]);
  }else{
    mk('tspan',{},lab,' '+axisUnits[n]);
  }
}
for(let n=0;n<12;n++)drawPanel(n);
</script>
</body>
</html>
